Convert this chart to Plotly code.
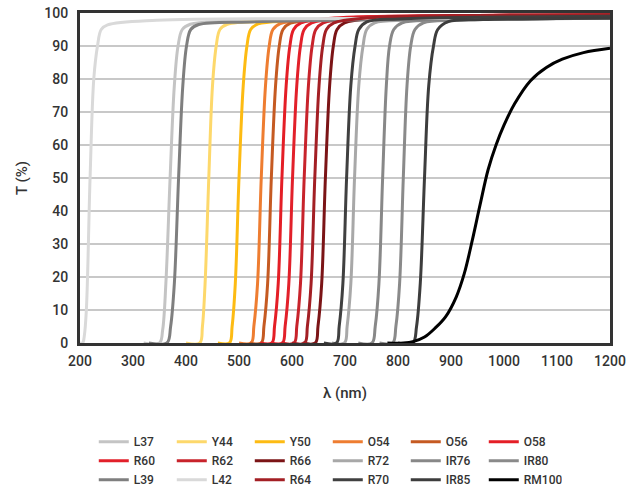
import plotly.graph_objects as go

# ---- data (wavelength nm, transmission %) ----
L37_nm = [320, 350, 356, 362, 370, 378, 385, 393, 408, 480, 800, 1200]
L37_T = [0, 0, 4, 18, 50, 78, 90, 95, 96.6, 97.5, 98.2, 98.5]
Y44_nm = [400, 426, 431, 436, 443, 450, 457, 464, 478, 560, 800, 1200]
Y44_T = [0, 0, 5, 18, 50, 78, 90, 95, 96.6, 97.5, 98.3, 98.7]
Y50_nm = [460, 482, 487, 493, 500, 508, 515, 522, 536, 600, 800, 1200]
Y50_T = [0, 0, 5, 18, 50, 78, 90, 95, 96.7, 97.6, 98.4, 98.8]
O54_nm = [500, 523, 528, 535, 542, 550, 557, 564, 578, 640, 850, 1200]
O54_T = [0, 0, 5, 18, 50, 78, 90, 95, 96.8, 97.8, 98.6, 99]
O56_nm = [520, 542, 547, 554, 561, 569, 576, 583, 597, 660, 850, 1200]
O56_T = [0, 0, 5, 18, 50, 78, 90, 95, 96.9, 98, 98.8, 99.1]
O58_nm = [540, 562, 567, 574, 581, 589, 596, 603, 617, 680, 900, 1200]
O58_T = [0, 0, 5, 18, 50, 78, 90, 95, 97, 98.5, 99.2, 99.4]
R60_nm = [560, 582, 587, 594, 601, 609, 616, 623, 637, 700, 900, 1200]
R60_T = [0, 0, 5, 18, 50, 78, 90, 95, 97, 98.5, 99.2, 99.4]
R62_nm = [580, 604, 609, 616, 623, 631, 638, 645, 659, 720, 900, 1200]
R62_T = [0, 0, 5, 18, 50, 78, 90, 95, 97, 98.5, 99.2, 99.4]
R66_nm = [620, 644, 649, 656, 663, 671, 678, 685, 699, 760, 950, 1200]
R66_T = [0, 0, 5, 18, 50, 78, 90, 95, 97, 98.5, 99.2, 99.4]
R72_nm = [675, 699, 704, 711, 718, 726, 734, 741, 756, 820, 1000, 1200]
R72_T = [0, 0, 5, 18, 50, 78, 90, 95, 97, 97.8, 98.4, 98.6]
IR76_nm = [725, 751, 757, 764, 771, 778, 784, 792, 808, 870, 1050, 1200]
IR76_T = [0, 0, 5, 18, 50, 78, 90, 95, 97, 97.8, 98.3, 98.5]
IR80_nm = [765, 790, 796, 803, 810, 817, 824, 832, 848, 910, 1100, 1200]
IR80_T = [0, 0, 5, 18, 50, 78, 90, 95, 97, 97.8, 98.3, 98.5]
L39_nm = [330, 364, 371, 378, 386, 394, 401, 409, 424, 520, 800, 1200]
L39_T = [0, 0, 5, 18, 50, 78, 90, 95, 96.5, 97.3, 98, 98.4]
L42_nm = [200, 205, 208, 212, 219, 226, 233, 240, 252, 345, 700, 1200]
L42_T = [0, 0, 2, 10, 50, 80, 90, 95, 96.4, 97.8, 98.3, 98.5]
R64_nm = [600, 624, 629, 636, 643, 651, 658, 665, 679, 740, 950, 1200]
R64_T = [0, 0, 5, 18, 50, 78, 90, 95, 97, 98.5, 99.2, 99.4]
R70_nm = [660, 684, 689, 696, 703, 711, 719, 726, 741, 800, 1000, 1200]
R70_T = [0, 0, 5, 18, 50, 78, 90, 95, 97.3, 98.2, 98.8, 99]
IR85_nm = [800, 828, 835, 842, 850, 858, 867, 875, 895, 960, 1100, 1200]
IR85_T = [0, 0, 5, 18, 50, 78, 90, 95, 97.4, 98, 98.3, 98.4]
RM100_nm = [780, 810, 830, 850, 870, 890, 910, 925, 940, 955, 970, 985, 1000, 1020,
            1050, 1080, 1110, 1150, 1200]
RM100_T = [0, 0, 0.5, 1.8, 4.5, 8, 14, 21, 31, 42, 52.5, 60, 66, 72.5,
           79.5, 83.5, 86, 88, 89.3]

names = ["L37", "Y44", "Y50", "O54", "O56", "O58",
         "R60", "R62", "R66", "R72", "IR76", "IR80",
         "L39", "L42", "R64", "R70", "IR85", "RM100"]
xs = [L37_nm, Y44_nm, Y50_nm, O54_nm, O56_nm, O58_nm,
      R60_nm, R62_nm, R66_nm, R72_nm, IR76_nm, IR80_nm,
      L39_nm, L42_nm, R64_nm, R70_nm, IR85_nm, RM100_nm]
ys = [L37_T, Y44_T, Y50_T, O54_T, O56_T, O58_T,
      R60_T, R62_T, R66_T, R72_T, IR76_T, IR80_T,
      L39_T, L42_T, R64_T, R70_T, IR85_T, RM100_T]
colors = ["#c4c4c4", "#fdd86b", "#fdbb13", "#ee7d31", "#c55a22", "#e41e26",
          "#e2202a", "#c8232b", "#7b1416", "#a8a8a8", "#888888", "#8a8a8a",
          "#7f7f7f", "#d9d9d9", "#a31f24", "#404040", "#3d3d3d", "#000000"]

x_ticks = [200, 300, 400, 500, 600, 700, 800, 900, 1000, 1100, 1200]
y_ticks = [0, 10, 20, 30, 40, 50, 60, 70, 80, 90, 100]

FONT = "Roboto, Liberation Sans, sans-serif"

fig = go.Figure()
for n, x, y, c in zip(names, xs, ys, colors):
    fig.add_trace(go.Scatter(x=x, y=y, name=n, mode="lines",
                             line=dict(color=c, width=3, shape="spline", smoothing=1),
                             cliponaxis=True))

fig.update_layout(
    width=630, height=494,
    margin=dict(l=80, r=20, t=13, b=151, autoexpand=False),
    paper_bgcolor="white", plot_bgcolor="white",
    font=dict(family=FONT, size=14, color="#333333", weight=500),
    showlegend=True,
    legend=dict(orientation="h", x=0.026, xanchor="left", y=-0.255, yanchor="top",
                entrywidth=33, entrywidthmode="pixels", traceorder="normal",
                font=dict(family=FONT, size=12, color="#333333", weight=500),
                itemwidth=30, tracegroupgap=0),
)
fig.update_xaxes(range=[200, 1200], tickvals=x_ticks, ticktext=[str(v) for v in x_ticks],
                 showgrid=False, zeroline=False,
                 showline=True, linecolor="#333333", linewidth=3, mirror=True,
                 ticks="", ticklabelstandoff=3, ticklabeloverflow="allow",
                 title=dict(text="λ (nm)", standoff=20, font=dict(size=15)))
fig.update_yaxes(range=[0, 100], tickvals=y_ticks, ticktext=[str(v) for v in y_ticks],
                 showgrid=True, gridcolor="#c8c8c8", gridwidth=1.5, zeroline=False,
                 showline=True, linecolor="#333333", linewidth=3, mirror=True,
                 ticks="", ticklabelstandoff=6, ticklabeloverflow="allow",
                 title=dict(text="T (%)", standoff=14, font=dict(size=15)))

# remove the page's default body margin so the figure fills the window exactly
fig.write_html("out.html",
               config={"displayModeBar": False},
               post_script="document.body.style.margin='0';"
                           "document.body.style.overflow='hidden';")
